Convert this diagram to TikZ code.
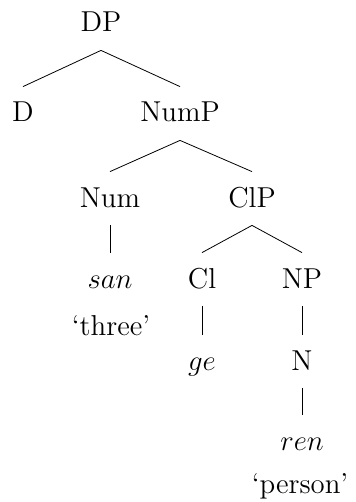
\documentclass[tikz,border=0pt]{standalone}
\usepackage{amsmath}
\usepackage{tikz}

\begin{document}
\begin{tikzpicture}[x=0.5pt,y=-0.5pt,
  cat/.style={font=\Large,anchor=base,inner sep=0pt,text height=17.5pt,text depth=9pt}]
  \useasboundingbox (0,0) rectangle (355,502);
  \node[cat] (DP)     at (101,32)  {DP};
  \node[cat] (D)      at (23,122)  {D};
  \node[cat] (NumP)   at (180,122) {NumP};
  \node[cat] (Num)    at (110,207) {Num};
  \node[cat] (ClP)    at (252,207) {ClP};
  \node[cat] (san)    at (110,288) {$san$};
  \node[cat] (three)  at (111,335) {`three'};
  \node[cat] (Cl)     at (202,288) {Cl};
  \node[cat] (NP)     at (302,288) {NP};
  \node[cat] (ge)     at (202,370) {$ge$};
  \node[cat] (N)      at (302,370) {N};
  \node[cat] (ren)    at (302,450) {$ren$};
  \node[cat] (person) at (300,493) {`person'};
  \path[draw] (DP.south)   edge (D.north)
                           edge (NumP.north)
              (NumP.south) edge (Num.north)
                           edge (ClP.north)
              (Num.south)  edge (san.north)
              (ClP.south)  edge (Cl.north)
                           edge (NP.north)
              (Cl.south)   edge (ge.north)
              (NP.south)   edge (N.north)
              (N.south)    edge (ren.north);
\end{tikzpicture}
\end{document}
